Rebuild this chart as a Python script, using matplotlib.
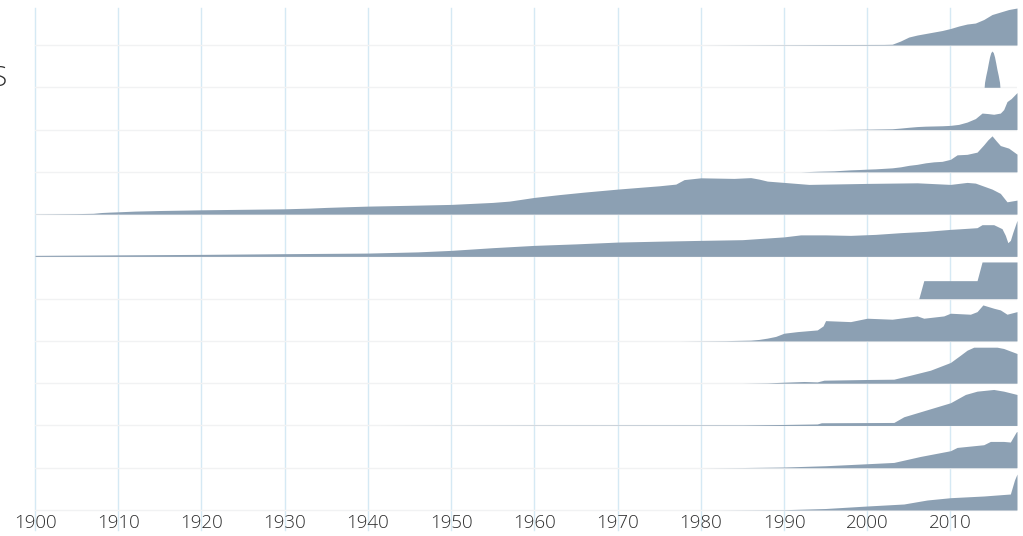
import matplotlib
matplotlib.use("Agg")
import matplotlib.pyplot as plt
from matplotlib.transforms import blended_transform_factory
import numpy as np

# ---- data (row heights, in relative units) ----
row01_years = [1980, 1990, 1996, 2002, 2003, 2004, 2005, 2006, 2007, 2008, 2009, 2010, 2011, 2012, 2013, 2014, 2015, 2016, 2017, 2018]
row01_vals = [0, 0.3, 0.5, 0.6, 0.8, 4, 8, 10, 11.5, 13, 14.5, 16.5, 19, 21, 22, 25.5, 30.5, 33, 35.5, 37]

row02_years = [2014.05, 2014.1, 2014.25, 2014.4, 2014.55, 2014.7, 2014.85, 2015.0, 2015.15, 2015.3, 2015.45, 2015.6, 2015.75, 2015.9, 2015.95]
row02_vals = [0, 5, 11.8, 17.5, 24.2, 30.4, 34.7, 36.3, 34.7, 30.4, 24.2, 17.5, 11.8, 5, 0]

row03_years = [1995, 2000, 2003, 2004, 2005, 2006, 2007, 2008, 2009, 2010, 2011, 2012, 2013, 2013.8, 2014.5, 2015.2, 2016, 2016.4, 2016.8, 2017.3, 2018]
row03_vals = [0, 0.4, 0.8, 1.5, 2.3, 3, 3.4, 3.6, 3.8, 4.2, 5.2, 7.5, 11, 16.5, 16, 15.3, 16.5, 20, 28, 31, 37]

row04_years = [1992, 1993, 1994, 1995, 1996, 1997, 1998, 1999, 2000, 2001, 2002, 2003, 2004, 2005, 2006, 2007, 2008, 2009, 2010, 2010.8, 2012, 2013.2, 2014, 2014.5, 2015, 2015.5, 2016, 2017, 2018]
row04_vals = [0, 0.3, 0.6, 0.8, 1, 1.5, 2, 2.3, 2.7, 3, 3.5, 4, 5, 6.5, 7.5, 9, 10, 10.5, 12.5, 17, 17.5, 19.7, 27, 32, 36, 31, 26.3, 23.7, 17.7]

row05_years = [1900, 1902, 1905, 1907, 1908, 1909, 1910, 1912, 1915, 1918, 1920, 1925, 1930, 1933, 1935, 1938, 1940, 1945, 1950, 1955, 1957, 1960, 1963, 1966, 1970, 1973, 1975, 1977, 1978, 1980, 1982, 1984, 1986, 1987, 1988, 1990, 1993, 2000, 2006, 2010, 2012, 2013, 2014, 2015, 2016, 2016.8, 2018]
row05_vals = [0.2, 0.3, 0.5, 0.8, 1.6, 2, 2.3, 3, 3.6, 4, 4.3, 4.8, 5.3, 6, 6.7, 7.5, 8, 8.8, 9.7, 11.7, 13, 16.7, 19.5, 22, 25, 27, 28.3, 30, 34.5, 36.3, 36, 35.7, 36.5, 35, 33, 31.7, 29.7, 30.7, 31.3, 29.7, 31.7, 31, 28, 25, 20.7, 12.3, 14]

row06_years = [1900, 1910, 1920, 1930, 1940, 1946, 1950, 1955, 1960, 1965, 1970, 1975, 1980, 1985, 1990, 1992, 1995, 1998, 2001, 2004, 2007, 2010, 2011, 2013.2, 2013.8, 2015.2, 2016.2, 2016.6, 2016.9, 2017.2, 2017.5, 2018]
row06_vals = [1, 1.5, 2, 2.7, 3.3, 4.5, 6, 8.7, 11, 12.5, 14.3, 15.2, 16, 16.7, 19.5, 21.5, 21.5, 21, 22, 23.7, 25, 27, 27.5, 28.7, 31.7, 31.7, 27.7, 21, 13.7, 16, 24, 36]

row07_years = [2006.2, 2006.8, 2013.2, 2013.8, 2018]
row07_vals = [0, 18, 18, 36.7, 36.7]

row08_years = [1977.5, 1983, 1986, 1987, 1988, 1989, 1990, 1991.6, 1994, 1994.7, 1995, 1998, 2000, 2003, 2006, 2006.8, 2009.2, 2010, 2012.4, 2013.2, 2013.9, 2015.2, 2016, 2016.8, 2018]
row08_vals = [0, 0.3, 0.8, 1.5, 2.8, 4.5, 7.7, 9.3, 11, 15, 20.3, 19.3, 22.7, 21.7, 25, 22.7, 25, 27.7, 26.7, 29.3, 36, 32.7, 31, 26.7, 29.3]

row09_years = [1985, 1988, 1990, 1992.4, 1994, 1994.8, 2000, 2003.2, 2005.2, 2007.6, 2010, 2011.2, 2012, 2012.8, 2015.6, 2016.4, 2018]
row09_vals = [0, 0.3, 1, 1.7, 1.3, 3, 3.7, 4, 8, 13, 20.7, 28, 33, 36, 36, 34.7, 29.7]

row10_years = [1941.5, 1960, 1985, 1990, 1994, 1994.5, 2003.2, 2004.4, 2006.4, 2008.4, 2010, 2011.8, 2013.2, 2015.2, 2016.4, 2018]
row10_vals = [0, 0.3, 0.5, 1, 1.5, 2.7, 3, 8.7, 13.7, 18.7, 22.7, 31, 34.3, 36, 34.3, 31]

row11_years = [1980, 1985, 1990, 1995, 2000, 2003.2, 2006.4, 2010, 2010.8, 2014, 2014.8, 2016.4, 2017.2, 2017.9, 2018]
row11_vals = [0, 0.2, 0.7, 2, 4, 5.3, 11.3, 17, 20.3, 23, 26.3, 26.3, 25.7, 35.7, 36.3]

row12_years = [1982, 1990, 1995, 2000, 2004.4, 2007.2, 2010, 2014, 2017.2, 2017.7, 2018]
row12_vals = [0, 0.3, 1.5, 4, 6, 10, 12.3, 14, 16, 30, 36]

x_ticks = [1900, 1910, 1920, 1930, 1940, 1950, 1960, 1970, 1980, 1990, 2000, 2010]
x_tick_labels = [str(t) for t in x_ticks]
partial_label = "S"

rows = [
    (row01_years, row01_vals), (row02_years, row02_vals), (row03_years, row03_vals),
    (row04_years, row04_vals), (row05_years, row05_vals), (row06_years, row06_vals),
    (row07_years, row07_vals), (row08_years, row08_vals), (row09_years, row09_vals),
    (row10_years, row10_vals), (row11_years, row11_vals), (row12_years, row12_vals),
]

# ---- style ----
FILL = "#8ca0b3"
VGRID = "#d5e9f4"
HGRID = "#f1f2f3"
TEXT = "#2e2e2e"
ROW_PX = 42.27
plt.rcParams["font.family"] = ["Open Sans", "DejaVu Sans"]

W, H = 1023, 536
fig = plt.figure(figsize=(W / 100, H / 100), dpi=100)
ymin, ymax = -0.05, 11.95
bottom_px = 510 + 0.05 * ROW_PX
height_px = (ymax - ymin) * ROW_PX
ax = fig.add_axes([35 / W, (H - bottom_px) / H, (1017 - 35) / W, height_px / H])
ax.set_xlim(1900, 2018)
ax.set_ylim(ymin, ymax)
for s in ax.spines.values():
    s.set_visible(False)
ax.set_xticks([])
ax.set_yticks([])

n = len(rows)
# horizontal baselines
for i in range(n):
    base = n - 1 - i
    ax.axhline(base, color=HGRID, lw=1, zorder=1)

# vertical decade lines extending down through the labels
trans = blended_transform_factory(ax.transData, fig.transFigure)
for t in x_ticks:
    ax.plot([t, t], [(H - 530) / H, (H - 8) / H], transform=trans, color=VGRID,
            lw=1, clip_on=False, zorder=0.5)

for i, (yrs, vals) in enumerate(rows):
    base = n - 1 - i
    yrs = np.asarray(yrs, dtype=float)
    v = np.asarray(vals, dtype=float) / ROW_PX
    ax.fill_between(yrs, base, base + v, color=FILL, lw=0, zorder=2 + i)

for t, lab in zip(x_ticks, x_tick_labels):
    fig.text((35 + (t - 1900) * (1017 - 35) / 118) / W, (H - 523) / H, lab,
             ha="center", va="center", fontsize=13.5, color=TEXT, fontweight="light")

# partially visible label at the left edge, as in the reference
fig.text(7 / W, (H - 79) / H, partial_label, ha="right", va="center",
         fontsize=20, color=TEXT, fontweight="light")

fig.savefig("out.png", dpi=100, facecolor="white")
